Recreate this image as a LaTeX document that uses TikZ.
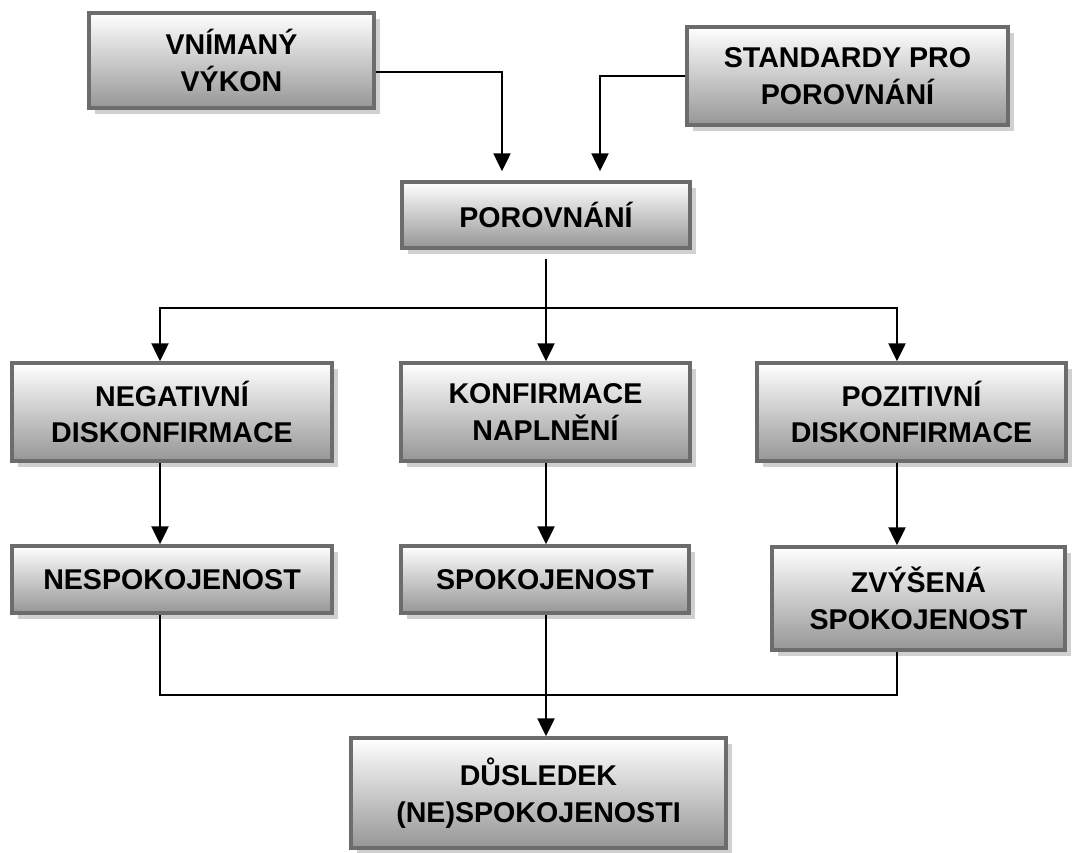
\documentclass[tikz,border=0pt]{standalone}
\usepackage{fontspec}
\setmainfont{Liberation Sans}
\usetikzlibrary{arrows.meta,shadows}
\definecolor{boxedge}{RGB}{108,108,108}
\definecolor{boxlow}{RGB}{150,150,150}
\definecolor{shade}{RGB}{208,208,208}
\tikzset{
  box/.style={draw=boxedge, line width=3.5pt, inner sep=0pt, align=center,
    top color=white, bottom color=boxlow,
    drop shadow={shadow xshift=6pt, shadow yshift=-6pt, fill=shade, opacity=1},
    font=\bfseries\fontsize{28.6}{36.5}\selectfont},
  link/.style={line width=2.5pt, black},
  arr/.style={link, -{Triangle[length=18pt,width=17pt]}}
}
\begin{document}
\begin{tikzpicture}[x=1pt,y=-1pt]
\useasboundingbox (0,0) rectangle (1073,852);

% boxes
\node[box, minimum width=285pt, minimum height=95pt] (A) at (231.5,60.5) {VNÍMANÝ\\VÝKON};
\node[box, minimum width=321pt, minimum height=98pt] (B) at (847.5,76) {STANDARDY PRO\\POROVNÁNÍ};
\node[box, minimum width=288pt, minimum height=66pt] (C) at (546,215) {POROVNÁNÍ};
\node[box, minimum width=320pt, minimum height=98pt] (D) at (172,412) {NEGATIVNÍ\\DISKONFIRMACE};
\node[box, minimum width=289pt, minimum height=98pt] (E) at (545.5,412) {KONFIRMACE\\NAPLNĚNÍ};
\node[box, minimum width=309pt, minimum height=98pt] (F) at (911.5,412) {POZITIVNÍ\\DISKONFIRMACE};
\node[box, minimum width=320pt, minimum height=67pt] (G) at (172,579.5) {NESPOKOJENOST};
\node[box, minimum width=288pt, minimum height=67pt] (H) at (545,579.5) {SPOKOJENOST};
\node[box, minimum width=293pt, minimum height=103pt] (I) at (918.5,598.5) {ZVÝŠENÁ\\SPOKOJENOST};
\node[box, minimum width=375pt, minimum height=110pt] (J) at (538.5,793) {DŮSLEDEK\\(NE)SPOKOJENOSTI};

% column and rail positions
\coordinate (colL) at (160,0);
\coordinate (colM) at (546,0);
\coordinate (colR) at (897,0);
\coordinate (railT) at (0,308);
\coordinate (railB) at (0,695);

% inputs into the comparison
\draw[arr] ([yshift=-11.5pt]A.east) -| ([xshift=-44pt,yshift=9pt]C.north);
\draw[arr] (B.west) -| ([xshift=54pt,yshift=9pt]C.north);

% comparison splits into three outcomes
\draw[arr] ([yshift=-9pt]C.south) -- (E.north -| colM);
\draw[arr] (colM |- railT) -| (D.north -| colL);
\draw[arr] (colM |- railT) -| (F.north -| colR);

% outcomes to satisfaction levels
\draw[arr] (D.south -| colL) -- (G.north -| colL);
\draw[arr] (E.south -| colM) -- (H.north -| colM);
\draw[arr] (F.south -| colR) -- (I.north -| colR);

% satisfaction levels to consequence
\draw[link] (G.south -| colL) -- (colL |- railB) -- (colR |- railB) -- (I.south -| colR);
\draw[arr] (H.south -| colM) -- (J.north -| colM);
\end{tikzpicture}
\end{document}
